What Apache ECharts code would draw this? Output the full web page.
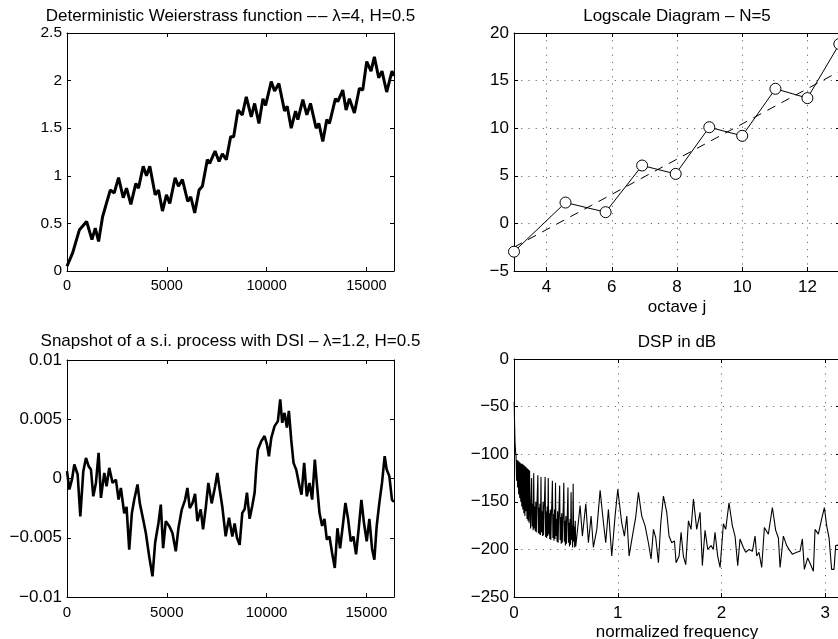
<!DOCTYPE html>
<html><head><meta charset="utf-8">
<script src="https://cdn.jsdelivr.net/npm/echarts@6/dist/echarts.min.js"></script>
<style>html,body{margin:0;padding:0;background:#fff;overflow:hidden}#c{width:838px;height:639px}</style>
</head><body><div id="c"></div>
<script>
// ---- Top-left: Weierstrass function ----
const weierX = [0,283,617,983,1250,1417,1583,1783,2167,2367,2583,2817,2983,3200,3450,3583,3817,3983,4150,4417,4583,4783,4983,5150,5417,5583,5783,6050,6200,6400,6617,6783,7033,7150,7417,7617,7783,7983,8200,8350,8567,8783,8983,9233,9400,9617,9817,9950,10233,10400,10617,10900,11033,11233,11450,11567,11817,12017,12200,12483,12617,12817,13017,13150,13450,13567,13817,13983,14150,14400,14650,14817,15017,15233,15400,15617,15783,16017,16283,16384];
const weierY = [0.05,0.19,0.43,0.52,0.33,0.45,0.31,0.57,0.85,0.82,0.98,0.77,0.87,0.70,0.92,0.87,1.10,1.00,1.10,0.80,0.85,0.63,0.80,0.71,0.98,0.89,0.96,0.73,0.78,0.61,0.85,0.89,1.17,1.13,1.26,1.15,1.23,1.17,1.41,1.41,1.69,1.64,1.83,1.62,1.76,1.55,1.81,1.74,1.99,1.89,1.97,1.68,1.73,1.50,1.68,1.59,1.80,1.64,1.76,1.50,1.55,1.36,1.59,1.55,1.81,1.78,1.90,1.69,1.81,1.66,1.92,1.90,2.20,2.10,2.25,2.03,2.10,1.88,2.10,2.05];

// ---- Top-right: Logscale diagram ----
const octaveJ = [3,4.58,5.81,6.93,7.96,8.99,10.0,11.02,12.0,12.98];
const logVal = [-2.97,2.19,1.18,6.08,5.2,10.1,9.2,14.14,13.16,18.84];
const fitJ = [3,13];
const fitVal = [-2.5,16.0];

// ---- Bottom-left: DSI process snapshot ----
const dsiX = [0,117,250,367,533,667,817,950,1083,1200,1317,1450,1583,1700,1867,1983,2117,2283,2450,2583,2700,2867,2983,3117,3250,3367,3533,3650,3817,3950,4117,4283,4417,4583,4700,4817,4950,5117,5283,5450,5583,5750,5917,6033,6150,6283,6417,6533,6700,6817,6950,7083,7250,7417,7533,7650,7783,7950,8117,8283,8400,8517,8650,8783,8900,9017,9150,9283,9400,9483,9567,9733,9900,10017,10117,10233,10400,10567,10683,10783,10900,11017,11117,11233,11350,11483,11650,11750,11883,12017,12150,12283,12417,12517,12650,12783,12900,13017,13150,13283,13417,13550,13683,13817,13950,14083,14217,14350,14483,14617,14750,14883,15017,15150,15283,15400,15517,15650,15783,15917,16017,16150,16283,16384];
const dsiY = [0.00062,-0.00093,-0.00008,0.00118,0.00034,-0.00319,0.00062,0.00174,0.00104,0.00076,
-0.0015,-0.00037,0.00216,-0.00164,0.00047,-0.00065,0.0009,-0.00037,-0.0001,-0.00177,
-0.0008,-0.00293,-0.0024,-0.006,-0.00293,-0.0018,-0.0005,-0.0021,-0.00347,-0.0046,
-0.00657,-0.00826,-0.0054,-0.00375,-0.0022,-0.00587,-0.0036,-0.004,-0.0046,-0.00615,
-0.0042,-0.00262,-0.0018,-0.0008,-0.0025,-0.0021,-0.0013,-0.0036,-0.0026,-0.0043,
-0.0025,-0.00037,-0.0021,-0.0007,0.00047,-0.00093,-0.0024,-0.00488,-0.0033,-0.0049,
-0.0038,-0.005,-0.0056,-0.0029,-0.0026,-0.0012,-0.0034,-0.0023,-0.0012,0.0009,
0.00245,0.00315,0.00358,0.00287,0.00188,0.0034,0.00442,0.00484,0.00668,0.0047,
0.00554,0.0043,0.0057,0.0033,0.00132,0.00075,-0.00065,-0.00136,0.00132,-0.0015,
-0.00037,-0.00178,0.0016,-0.00037,-0.0029,-0.004,-0.0034,-0.00516,-0.0049,-0.00629,
-0.00755,-0.0042,-0.0059,-0.004,-0.00206,-0.0034,-0.0053,-0.0049,-0.0064,-0.0042,
-0.0018,-0.0038,-0.0053,-0.0034,-0.0059,-0.00685,-0.004,-0.00206,-0.00037,0.00188,
0.00075,0.0002,-0.0018,-0.00198];

// ---- Bottom-right: DSP in dB ----
const dspF = [0.002,0.006,0.010,0.015,0.020,0.025,0.030,0.035,0.040,0.045,0.050,0.055,0.060,0.065,0.070,0.075,0.080,0.085,0.090,0.095,0.100,0.105,0.110,0.115,0.120,0.125,0.130,0.135,0.140,0.145,0.150,
0.155,0.160,0.165,0.170,0.175,0.180,0.185,0.190,0.195,0.200,0.205,0.210,0.215,0.220,0.225,0.230,0.235,0.240,0.245,0.250,
0.255,0.260,0.265,0.270,0.275,0.280,0.285,0.290,0.295,0.300,0.305,0.310,0.315,0.320,0.325,0.330,0.335,0.340,0.345,0.350,
0.355,0.360,0.365,0.370,0.375,0.380,0.385,0.390,0.395,0.400,0.405,0.410,0.415,0.420,0.425,0.430,0.435,0.440,0.445,0.450,
0.455,0.460,0.465,0.470,0.475,0.480,0.485,0.490,0.495,0.500,0.505,0.510,0.515,0.520,0.525,0.530,0.535,0.540,0.545,0.550,
0.555,0.560,0.565,0.570,0.575,0.580,0.585,0.590,0.595,
0.605,0.637,0.659,0.692,0.717,0.743,0.765,0.798,0.830,0.862,0.884,0.910,0.942,0.974,1.000,1.038,1.064,1.087,1.109,1.141,1.173,1.199,1.231,1.263,1.295,1.321,1.344,1.366,1.392,1.414,1.440,1.472,1.494,1.520,1.546,1.562,
1.591,1.610,1.632,1.655,1.681,1.706,1.729,1.761,1.793,1.815,1.841,1.867,1.899,1.921,1.937,1.963,1.986,2.002,2.018,2.040,2.072,2.104,2.130,2.156,2.178,2.210,2.233,2.265,2.297,2.323,2.339,2.361,2.387,2.413,2.451,2.490,2.522,2.548,2.564,2.596,2.628,2.650,2.682,2.724,2.756,2.779,2.798,2.830,2.862,2.885,2.901,2.933,2.965,2.991,3.013,3.036,3.061,3.084,3.100,3.119,3.1416];
const dspDB = [-45,-70,-88,-97,-103,-128,-106,-135,-107,-142,-108,-146,-109,-150,-110,-155,-110,-158,-111,-162,-112,-165,-113,-160,-114,-168,-115,-170,-116,-172,-117,
-158,-178,-150,-125,-176,-152,-180,-120,-178,-155,-181,-150,-182,-158,-140,-122,-183,-156,-184,-152,
-185,-124,-182,-160,-186,-150,-185,-158,-145,-124,-187,-160,-188,-155,-186,-125,-184,-162,-189,-158,
-190,-165,-150,-128,-188,-163,-191,-158,-189,-130,-186,-168,-192,-160,-193,-170,-152,-133,-190,-166,
-194,-162,-193,-172,-155,-130,-192,-170,-196,-165,-194,-175,-158,-135,-193,-172,-197,-168,-195,-140,
-190,-175,-198,-131,-192,-176,-198,-170,-197,
-198,-154,-186,-152,-193,-165,-198,-179,-138,-172,-193,-158,-207,-165,-137,-172,-186,-165,-207,-186,-166,-140,-165,-175,-193,-210,-179,-188,-214,-173,-144,-161,-186,-193,-191,-214,
-207,-182,-207,-216,-170,-179,-147,-179,-161,-217,-180,-200,-196,-200,-182,-207,-219,-217,-173,-179,-151,-175,-186,-217,-189,-198,-203,-200,-202,-186,-207,-203,-219,-177,-184,-156,-180,-188,-219,-186,-196,-200,-205,-203,-202,-189,-221,-209,-217,-223,-179,-184,-168,-156,-175,-188,-221,-221,-196,-198,-195];

// ---- Text ----
const titles = [
  'Deterministic Weierstrass function \u2013\u200a\u2013 \u03bb=4, H=0.5',
  'Logscale Diagram \u2013 N=5',
  'Snapshot of a s.i. process with DSI \u2013 \u03bb=1.2, H=0.5',
  'DSP in dB'
];
const xNames = ['', 'octave j', '', 'normalized frequency'];

const zip = (a, b) => a.map((v, i) => [v, b[i]]);
const FONT = '"Liberation Sans", Arial, Helvetica, sans-serif';
const minus = v => String(v).replace('-', '\u2212');

const grids = [
  {left: 67, top: 33, width: 327, height: 238},
  {left: 514, top: 33, width: 326, height: 238},
  {left: 67, top: 360, width: 327, height: 237},
  {left: 514, top: 359, width: 326, height: 238}
];
grids.forEach(g => { g.outerBoundsMode = 'none'; g.containLabel = false; g.show = false; });

const axisLine = {show: true, onZero: false, lineStyle: {color: '#000', width: 1}};
const tick = {show: true, inside: true, length: 4, lineStyle: {color: '#000', width: 1}};
const dotted = {show: true, lineStyle: {color: '#6a6a6a', width: 1, type: [1.2, 6]}};
const noSplit = {show: false};

const xCfg = [
  {min: 0, max: 16384, interval: 5000, grid: false, fs: 14.5, margin: 7.5, fmt: v => minus(v)},
  {min: 3, max: 13, grid: true, fs: 17, margin: 7.5, fmt: v => (v % 2 === 0 ? String(v) : '')},
  {min: 0, max: 16384, interval: 5000, grid: false, fs: 15, margin: 8.5, fmt: v => minus(v)},
  {min: 0, max: Math.PI, interval: 1, grid: true, fs: 17, margin: 7.5, fmt: v => (Number.isInteger(v) ? String(v) : '')}
];
const nameGaps = [0, 27.5, 0, 26.5];
const yCfg = [
  {min: 0, max: 2.5, interval: 0.5, grid: false, fs: 15.5},
  {min: -5, max: 20, interval: 5, grid: true, fs: 17},
  {min: -0.01, max: 0.01, interval: 0.005, grid: false, fs: 17},
  {min: -250, max: 0, interval: 50, grid: true, fs: 17}
];

const xAxis = [], yAxis = [];
xCfg.forEach((c, gi) => {
  const base = {type: 'value', gridIndex: gi, min: c.min, max: c.max, axisLine, axisTick: tick};
  if (c.interval !== undefined) base.interval = c.interval; else base.splitNumber = 5;
  xAxis.push(Object.assign({}, base, {
    position: 'bottom',
    splitLine: c.grid ? dotted : noSplit,
    axisLabel: {color: '#000', fontFamily: FONT, fontSize: c.fs, margin: c.margin, showMaxLabel: false, formatter: c.fmt},
    name: xNames[gi], nameLocation: 'middle', nameGap: nameGaps[gi],
    nameTextStyle: {color: '#000', fontFamily: FONT, fontSize: 17}
  }));
  xAxis.push(Object.assign({}, base, {position: 'top', splitLine: noSplit, axisLabel: {show: false}}));
});
yCfg.forEach((c, gi) => {
  const base = {type: 'value', gridIndex: gi, min: c.min, max: c.max, interval: c.interval, axisLine, axisTick: tick};
  yAxis.push(Object.assign({}, base, {
    position: 'left',
    splitLine: c.grid ? dotted : noSplit,
    axisLabel: {color: '#000', fontFamily: FONT, fontSize: c.fs, margin: 5, formatter: v => minus(v)}
  }));
  yAxis.push(Object.assign({}, base, {position: 'right', splitLine: noSplit, axisLabel: {show: false}}));
});

const titleTop = [7.5, 7.5, 332.5, 333.5];
const titleLeft = [230.5, 677, 230.5, 677];
const title = titles.map((t, i) => ({
  text: t, left: titleLeft[i], top: titleTop[i], textAlign: 'center', padding: 0,
  textStyle: {color: '#000', fontFamily: FONT, fontSize: 17, fontWeight: 'normal'}
}));

const lineBase = {type: 'line', showSymbol: false, symbol: 'none', animation: false, silent: true};
const series = [
  Object.assign({}, lineBase, {xAxisIndex: 0, yAxisIndex: 0, data: zip(weierX, weierY),
    lineStyle: {color: '#000', width: 3}}),
  Object.assign({}, lineBase, {xAxisIndex: 2, yAxisIndex: 2, data: zip(fitJ, fitVal), z: 2,
    lineStyle: {color: '#000', width: 1, type: [9, 7]}}),
  {type: 'line', xAxisIndex: 2, yAxisIndex: 2, data: zip(octaveJ, logVal), z: 3, animation: false, silent: true,
    symbol: 'circle', symbolSize: 11, showSymbol: true,
    itemStyle: {color: '#fff', borderColor: '#000', borderWidth: 1},
    lineStyle: {color: '#000', width: 1}},
  Object.assign({}, lineBase, {xAxisIndex: 4, yAxisIndex: 4, data: zip(dsiX, dsiY),
    lineStyle: {color: '#000', width: 2.6}}),
  Object.assign({}, lineBase, {xAxisIndex: 6, yAxisIndex: 6, data: zip(dspF, dspDB),
    lineStyle: {color: '#000', width: 1.1}})
];

const chart = echarts.init(document.getElementById('c'), null, {renderer: 'canvas'});
chart.setOption({
  animation: false,
  backgroundColor: '#fff',
  title, grid: grids, xAxis, yAxis, series
});
</script>
</body></html>
